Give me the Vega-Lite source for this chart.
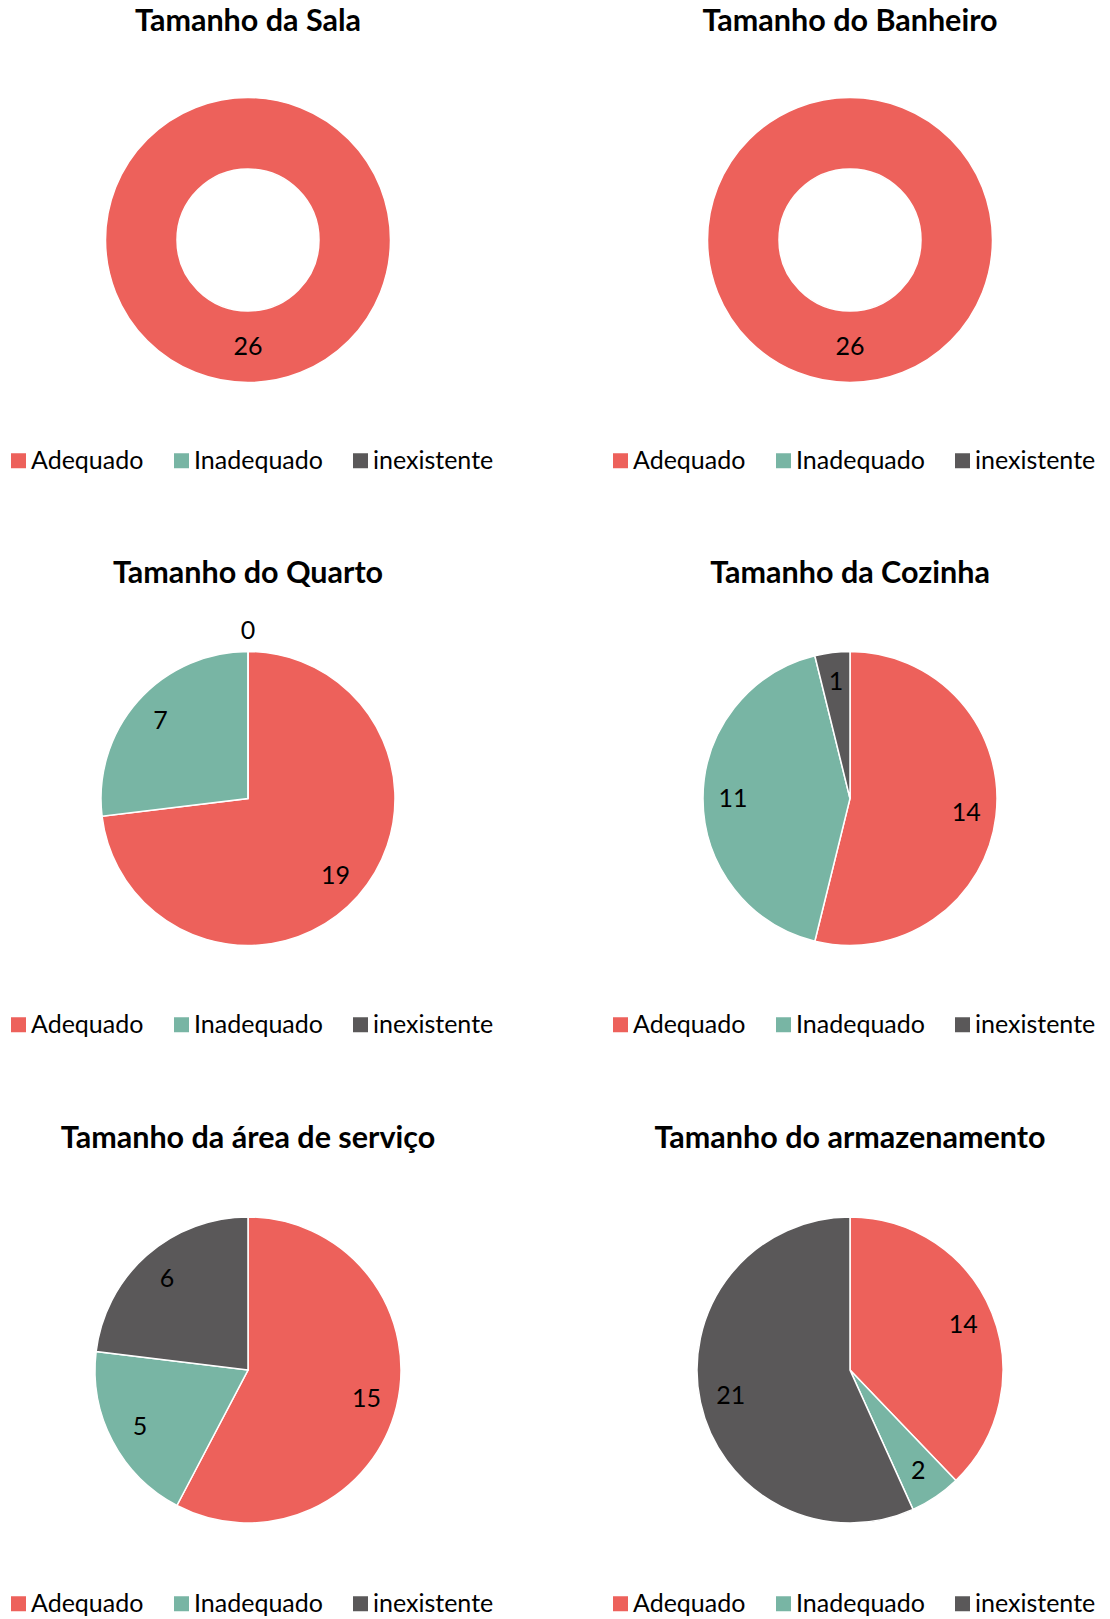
{
  "$schema": "https://vega.github.io/schema/vega-lite/v6.json",
  "padding": {"top": 7, "left": 0, "right": 0, "bottom": 0},
  "background": "white",
  "data": {"values": [
    {"chart": "Sala", "cat": "Adequado", "k": 1, "v": 26},
    {"chart": "Banheiro", "cat": "Adequado", "k": 1, "v": 26},
    {"chart": "Quarto", "cat": "Adequado", "k": 1, "v": 19},
    {"chart": "Quarto", "cat": "Inadequado", "k": 2, "v": 7},
    {"chart": "Quarto", "cat": "inexistente", "k": 3, "v": 0},
    {"chart": "Cozinha", "cat": "Adequado", "k": 1, "v": 14},
    {"chart": "Cozinha", "cat": "Inadequado", "k": 2, "v": 11},
    {"chart": "Cozinha", "cat": "inexistente", "k": 3, "v": 1},
    {"chart": "Servico", "cat": "Adequado", "k": 1, "v": 15},
    {"chart": "Servico", "cat": "Inadequado", "k": 2, "v": 5},
    {"chart": "Servico", "cat": "inexistente", "k": 3, "v": 6},
    {"chart": "Armazenamento", "cat": "Adequado", "k": 1, "v": 14},
    {"chart": "Armazenamento", "cat": "Inadequado", "k": 2, "v": 2},
    {"chart": "Armazenamento", "cat": "inexistente", "k": 3, "v": 21}
  ]},
  "columns": 2,
  "spacing": {"row": 172, "column": 106},
  "bounds": "flush",
  "align": "each",
  "resolve": {"scale": {"theta": "independent", "color": "independent"}, "legend": {"color": "independent"}},
  "config": {
    "view": {"stroke": null},
    "font": "Lato",
    "title": {"font": "Lato", "fontSize": 30.5, "fontWeight": "bold", "color": "black", "baseline": "alphabetic", "offset": 12.5, "anchor": "middle"},
    "legend": {"orient": "none", "direction": "horizontal", "title": null, "symbolType": "square", "symbolSize": 225, "labelFont": "Lato", "labelFontSize": 25, "labelColor": "black", "columnPadding": 25, "labelOffset": 0, "symbolStrokeWidth": 0, "padding": 0, "legendX": 6},
    "text": {"font": "Lato", "fontSize": 25, "align": "center", "baseline": "middle"}
  },
  "concat": [
    {
      "width": 496, "height": 380,
      "title": "Tamanho da Sala",
      "transform": [{"filter": "datum.chart == 'Sala'"}],
      "encoding": {
        "theta": {"field": "v", "type": "quantitative", "stack": true},
        "order": {"field": "k", "type": "quantitative"},
        "color": {"field": "cat", "type": "nominal", "scale": {"domain": ["Adequado", "Inadequado", "inexistente"], "range": ["#ED615B", "#78B5A4", "#5A5859"]}, "legend": {"legendY": 398}}
      },
      "layer": [
        {"mark": {"type": "arc", "outerRadius": 142.5, "innerRadius": 71, "stroke": "white", "strokeWidth": 1.5}},
        {"transform": [{"filter": "datum.v > 0"}], "mark": {"type": "text", "radius": 107}, "encoding": {"text": {"field": "v", "type": "quantitative"}, "color": {"value": "black"}, "detail": {"field": "cat"}}}
      ]
    },
    {
      "width": 496, "height": 380,
      "title": "Tamanho do Banheiro",
      "transform": [{"filter": "datum.chart == 'Banheiro'"}],
      "encoding": {
        "theta": {"field": "v", "type": "quantitative", "stack": true},
        "order": {"field": "k", "type": "quantitative"},
        "color": {"field": "cat", "type": "nominal", "scale": {"domain": ["Adequado", "Inadequado", "inexistente"], "range": ["#ED615B", "#78B5A4", "#5A5859"]}, "legend": {"legendY": 398}}
      },
      "layer": [
        {"mark": {"type": "arc", "outerRadius": 142.5, "innerRadius": 71, "stroke": "white", "strokeWidth": 1.5}},
        {"transform": [{"filter": "datum.v > 0"}], "mark": {"type": "text", "radius": 107}, "encoding": {"text": {"field": "v", "type": "quantitative"}, "color": {"value": "black"}, "detail": {"field": "cat"}}}
      ]
    },
    {
      "width": 496, "height": 393,
      "title": "Tamanho do Quarto",
      "transform": [{"filter": "datum.chart == 'Quarto'"}],
      "encoding": {
        "theta": {"field": "v", "type": "quantitative", "stack": true},
        "order": {"field": "k", "type": "quantitative"},
        "color": {"field": "cat", "type": "nominal", "scale": {"domain": ["Adequado", "Inadequado", "inexistente"], "range": ["#ED615B", "#78B5A4", "#5A5859"]}, "legend": {"legendY": 410}}
      },
      "layer": [
        {"mark": {"type": "arc", "outerRadius": 147, "stroke": "white", "strokeWidth": 1.5}},
        {"transform": [{"filter": "datum.v > 0"}], "mark": {"type": "text", "radius": 117}, "encoding": {"text": {"field": "v", "type": "quantitative"}, "color": {"value": "black"}, "detail": {"field": "cat"}}},
        {"transform": [{"filter": "datum.v == 0"}], "mark": {"type": "text", "radius": 168}, "encoding": {"text": {"field": "v", "type": "quantitative"}, "color": {"value": "black"}, "detail": {"field": "cat"}}}
      ]
    },
    {
      "width": 496, "height": 393,
      "title": "Tamanho da Cozinha",
      "transform": [{"filter": "datum.chart == 'Cozinha'"}],
      "encoding": {
        "theta": {"field": "v", "type": "quantitative", "stack": true},
        "order": {"field": "k", "type": "quantitative"},
        "color": {"field": "cat", "type": "nominal", "scale": {"domain": ["Adequado", "Inadequado", "inexistente"], "range": ["#ED615B", "#78B5A4", "#5A5859"]}, "legend": {"legendY": 410}}
      },
      "layer": [
        {"mark": {"type": "arc", "outerRadius": 147, "stroke": "white", "strokeWidth": 1.5}},
        {"transform": [{"filter": "datum.v > 0"}], "mark": {"type": "text", "radius": 117}, "encoding": {"text": {"field": "v", "type": "quantitative"}, "color": {"value": "black"}, "detail": {"field": "cat"}}}
      ]
    },
    {
      "width": 496, "height": 406,
      "title": "Tamanho da área de serviço",
      "transform": [{"filter": "datum.chart == 'Servico'"}],
      "encoding": {
        "theta": {"field": "v", "type": "quantitative", "stack": true},
        "order": {"field": "k", "type": "quantitative"},
        "color": {"field": "cat", "type": "nominal", "scale": {"domain": ["Adequado", "Inadequado", "inexistente"], "range": ["#ED615B", "#78B5A4", "#5A5859"]}, "legend": {"legendY": 424}}
      },
      "layer": [
        {"mark": {"type": "arc", "outerRadius": 153, "stroke": "white", "strokeWidth": 1.5}},
        {"transform": [{"filter": "datum.v > 0"}], "mark": {"type": "text", "radius": 122}, "encoding": {"text": {"field": "v", "type": "quantitative"}, "color": {"value": "black"}, "detail": {"field": "cat"}}}
      ]
    },
    {
      "width": 496, "height": 406,
      "title": "Tamanho do armazenamento",
      "transform": [{"filter": "datum.chart == 'Armazenamento'"}],
      "encoding": {
        "theta": {"field": "v", "type": "quantitative", "stack": true},
        "order": {"field": "k", "type": "quantitative"},
        "color": {"field": "cat", "type": "nominal", "scale": {"domain": ["Adequado", "Inadequado", "inexistente"], "range": ["#ED615B", "#78B5A4", "#5A5859"]}, "legend": {"legendY": 424}}
      },
      "layer": [
        {"mark": {"type": "arc", "outerRadius": 153, "stroke": "white", "strokeWidth": 1.5}},
        {"transform": [{"filter": "datum.v > 0"}], "mark": {"type": "text", "radius": 122}, "encoding": {"text": {"field": "v", "type": "quantitative"}, "color": {"value": "black"}, "detail": {"field": "cat"}}}
      ]
    }
  ]
}
